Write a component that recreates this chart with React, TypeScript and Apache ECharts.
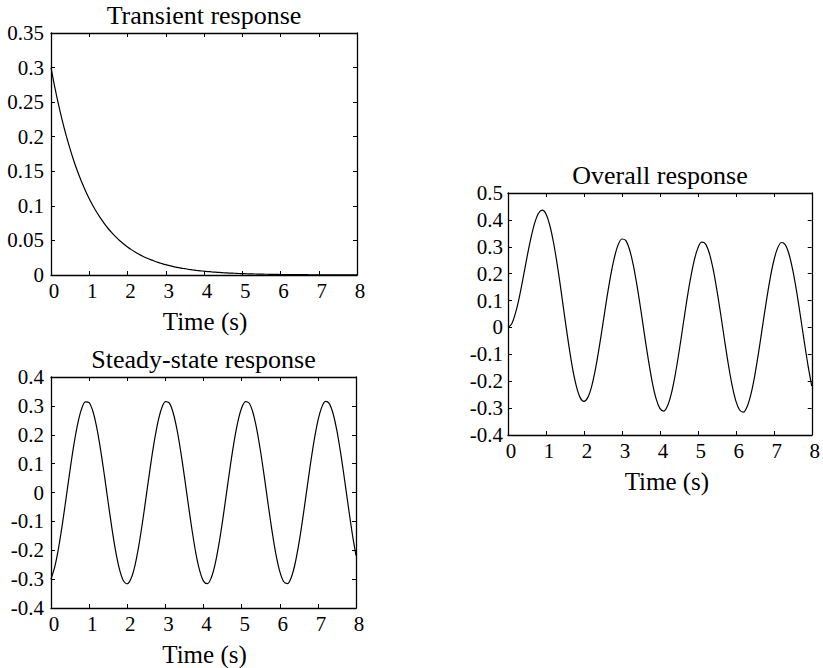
import React, { useEffect, useRef } from "react";
import * as echarts from "echarts";

const times = [
  0, 0.1, 0.2, 0.3, 0.4, 0.5, 0.6, 0.7, 0.8, 0.9,
  1, 1.1, 1.2, 1.3, 1.4, 1.5, 1.6, 1.7, 1.8, 1.9,
  2, 2.1, 2.2, 2.3, 2.4, 2.5, 2.6, 2.7, 2.8, 2.9,
  3, 3.1, 3.2, 3.3, 3.4, 3.5, 3.6, 3.7, 3.8, 3.9,
  4, 4.1, 4.2, 4.3, 4.4, 4.5, 4.6, 4.7, 4.8, 4.9,
  5, 5.1, 5.2, 5.3, 5.4, 5.5, 5.6, 5.7, 5.8, 5.9,
  6, 6.1, 6.2, 6.3, 6.4, 6.5, 6.6, 6.7, 6.8, 6.9,
  7, 7.1, 7.2, 7.3, 7.4, 7.5, 7.6, 7.7, 7.8, 7.9,
  8,
];

const transient = [
  0.3, 0.2714, 0.2456, 0.2222, 0.2011, 0.182, 0.1646, 0.149, 0.1348, 0.122,
  0.1104, 0.0999, 0.0904, 0.0818, 0.074, 0.0669, 0.0606, 0.0548, 0.0496, 0.0449,
  0.0406, 0.0367, 0.0332, 0.0301, 0.0272, 0.0246, 0.0223, 0.0202, 0.0182, 0.0165,
  0.0149, 0.0135, 0.0122, 0.0111, 0.01, 0.0091, 0.0082, 0.0074, 0.0067, 0.0061,
  0.0055, 0.005, 0.0045, 0.0041, 0.0037, 0.0033, 0.003, 0.0027, 0.0025, 0.0022,
  0.002, 0.0018, 0.0017, 0.0015, 0.0014, 0.0012, 0.0011, 0.001, 0.0009, 0.0008,
  0.0007, 0.0007, 0.0006, 0.0005, 0.0005, 0.0005, 0.0004, 0.0004, 0.0003, 0.0003,
  0.0003, 0.0002, 0.0002, 0.0002, 0.0002, 0.0002, 0.0002, 0.0001, 0.0001, 0.0001,
  0.0001,
];

const steadyState = [
  -0.3, -0.257, -0.191, -0.108, -0.0155, 0.0785, 0.1656, 0.2378, 0.2887, 0.3139,
  0.3111, 0.2804, 0.2248, 0.1488, 0.0599, -0.0345, -0.126, -0.2066, -0.268, -0.3055,
  -0.316, -0.2981, -0.2539, -0.1867, -0.103, -0.0102, 0.0837, 0.17, 0.2412, 0.2909,
  0.3145, 0.3101, 0.278, 0.221, 0.1441, 0.0547, -0.0397, -0.1308, -0.2106, -0.2708,
  -0.3068, -0.3157, -0.2965, -0.2508, -0.1825, -0.0981, -0.0049, 0.0888, 0.1745, 0.2447,
  0.2929, 0.315, 0.309, 0.2753, 0.2171, 0.1393, 0.0495, -0.045, -0.1357, -0.2145,
  -0.2734, -0.3081, -0.3154, -0.295, -0.2476, -0.1781, -0.093, 0.0004, 0.0939, 0.1789,
  0.248, 0.2949, 0.3154, 0.3079, 0.2728, 0.2132, 0.1345, 0.0442, -0.0502, -0.1404,
  -0.2184,
];

const overall = [
  0, 0.014, 0.055, 0.114, 0.186, 0.261, 0.33, 0.387, 0.424, 0.436,
  0.422, 0.38, 0.315, 0.231, 0.134, 0.032, -0.065, -0.152, -0.218, -0.261,
  -0.275, -0.261, -0.221, -0.157, -0.076, 0.014, 0.106, 0.19, 0.259, 0.307,
  0.329, 0.324, 0.29, 0.232, 0.154, 0.064, -0.032, -0.123, -0.204, -0.265,
  -0.301, -0.311, -0.292, -0.247, -0.179, -0.095, -0.002, 0.092, 0.177, 0.247,
  0.295, 0.317, 0.311, 0.277, 0.219, 0.141, 0.051, -0.044, -0.135, -0.214,
  -0.273, -0.307, -0.315, -0.294, -0.247, -0.178, -0.093, 0.001, 0.094, 0.179,
  0.248, 0.295, 0.316, 0.308, 0.273, 0.213, 0.135, 0.044, -0.05, -0.14,
  -0.218,
];

const titles = ["Transient response", "Steady-state response", "Overall response"];
const xAxisName = "Time (s)";
const xRange = [0, 8, 1];
const yRanges = [
  [0, 0.35, 0.05],
  [-0.4, 0.4, 0.1],
  [-0.4, 0.5, 0.1],
];

const FONT = "Liberation Serif";

export default function App() {
  const ref = useRef<HTMLDivElement>(null);
  useEffect(() => {
    if (!ref.current) return;
    const chart = echarts.init(ref.current, undefined, { renderer: "svg" });
    const grids = [
      { left: 51, top: 33, width: 306, height: 242 },
      { left: 51, top: 377, width: 305, height: 241 },
      { left: 508, top: 193, width: 304, height: 242 },
    ];
    const seriesData = [transient, steadyState, overall];
    const xAxes: any[] = [];
    const yAxes: any[] = [];
    const series: any[] = [];
    const titleOpts: any[] = [];
    grids.forEach((g, i) => {
      const [ymin, ymax, yint] = yRanges[i];
      const baseX = {
        type: "value",
        gridIndex: i,
        min: xRange[0],
        max: xRange[1],
        interval: xRange[2],
        splitLine: { show: false },
        axisLine: { show: true, onZero: false, lineStyle: { color: "#000", width: 1.3 } },
        axisTick: { show: true, inside: true, length: 4, lineStyle: { color: "#000", width: 1 } },
      };
      xAxes.push({
        ...baseX,
        position: "bottom",
        name: xAxisName,
        nameLocation: "middle",
        nameGap: 34,
        nameTextStyle: { fontFamily: FONT, fontSize: 25, color: "#000", padding: i === 2 ? [0, 0, 0, 14] : [0, 0, 0, 2] },
        axisLabel: {
          show: true,
          margin: 5,
          fontFamily: FONT,
          fontSize: 21,
          color: "#000",
          padding: [0, 0, 0, 6],
        },
      });
      xAxes.push({ ...baseX, position: "top", axisLabel: { show: false } });
      const baseY = {
        type: "value",
        gridIndex: i,
        min: ymin,
        max: ymax,
        interval: yint,
        splitLine: { show: false },
        axisLine: { show: true, onZero: false, lineStyle: { color: "#000", width: 1.3 } },
        axisTick: { show: true, inside: true, length: 4, lineStyle: { color: "#000", width: 1 } },
      };
      yAxes.push({
        ...baseY,
        position: "left",
        axisLabel: {
          show: true,
          margin: i === 2 ? 5 : 7,
          fontFamily: FONT,
          fontSize: 21,
          color: "#000",
          padding: [0, 0, 7, 0],
        },
      });
      yAxes.push({ ...baseY, position: "right", axisLabel: { show: false } });
      series.push({
        type: "line",
        xAxisIndex: i * 2,
        yAxisIndex: i * 2,
        data: times.map((t, k) => [t, seriesData[i][k]]),
        showSymbol: false,
        smooth: 0.3,
        lineStyle: { color: "#000", width: 1.2 },
        clip: true,
      });
      titleOpts.push({
        text: titles[i],
        left: g.left + g.width / 2,
        textAlign: "center",
        top: g.top - 31,
        padding: 0,
        textStyle: { fontFamily: FONT, fontSize: 26, fontWeight: "normal", color: "#000" },
      });
    });
    chart.setOption({
      animation: false,
      backgroundColor: "#fff",
      textStyle: { fontFamily: FONT },
      title: titleOpts,
      grid: grids.map((g) => ({ ...g, containLabel: false })),
      xAxis: xAxes,
      yAxis: yAxes,
      series,
    });
    return () => chart.dispose();
  }, []);
  return (
    <div
      ref={ref}
      style={{ position: "fixed", left: 0, top: 0, width: 823, height: 668, background: "#fff" }}
    />
  );
}
